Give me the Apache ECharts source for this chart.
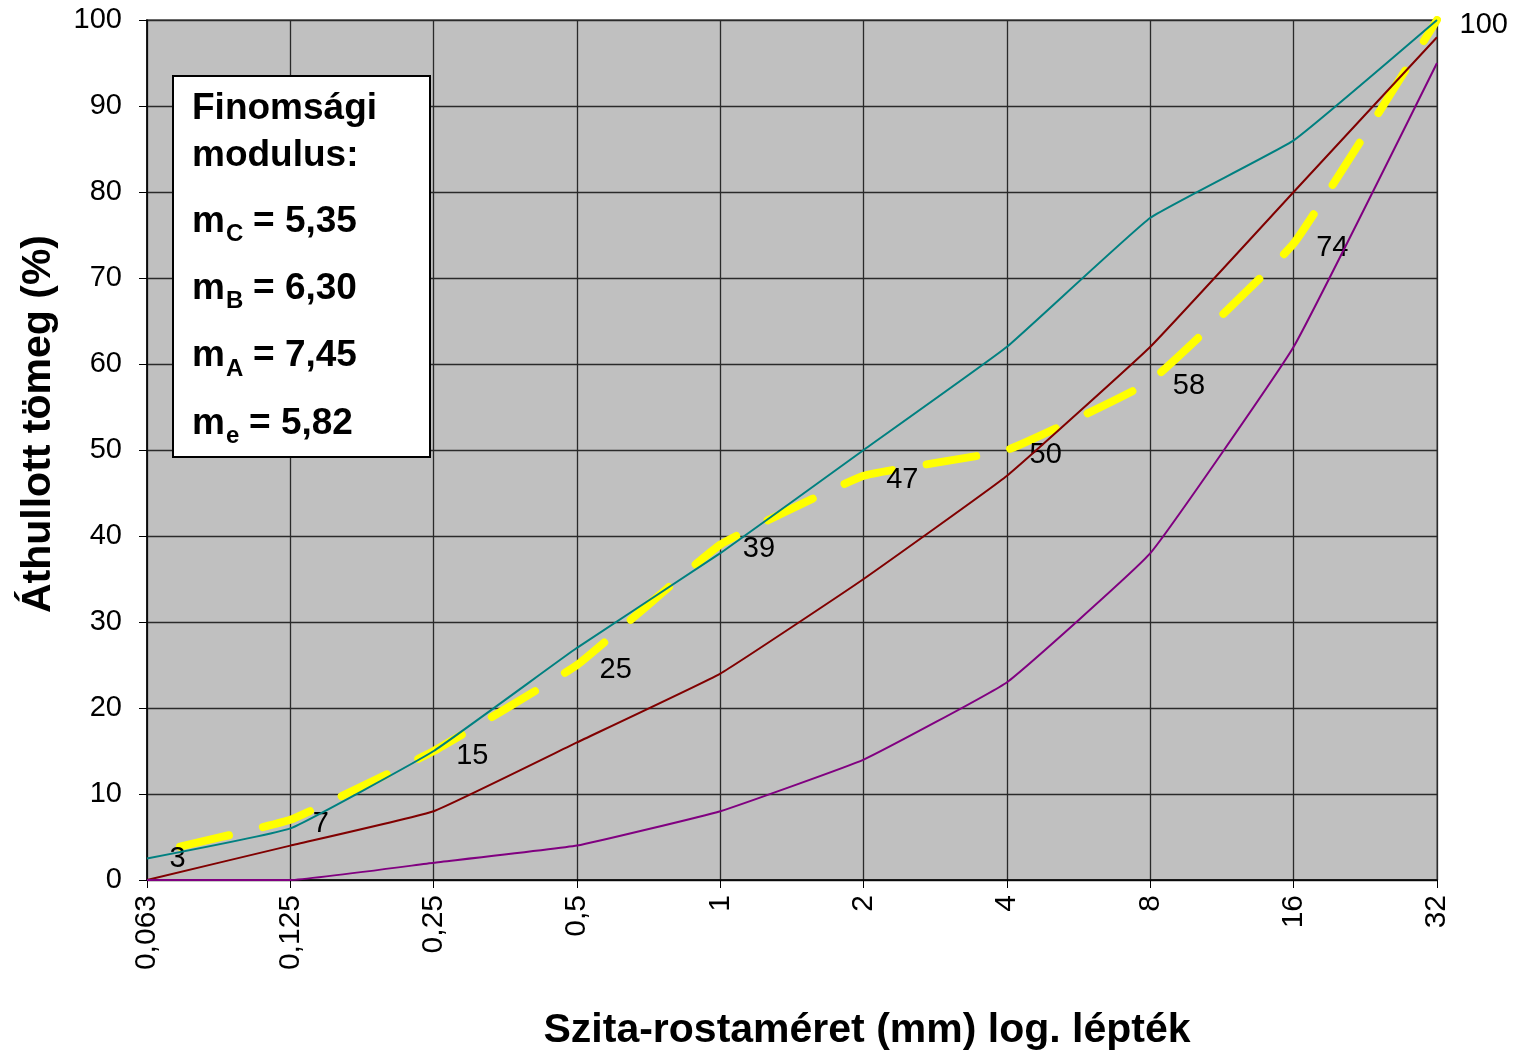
<!DOCTYPE html>
<html><head><meta charset="utf-8">
<script src="https://cdn.jsdelivr.net/npm/echarts@6/dist/echarts.min.js"></script>
<style>html,body{margin:0;padding:0;background:#fff}#c{width:1519px;height:1050px}</style>
</head><body><div id="c"></div>
<script>
const categories = ['0,063','0,125','0,25','0,5','1','2','4','8','16','32'];
const curveC = [2.5, 6, 15, 27, 38, 50, 62, 77, 86, 100];
const curveB = [0, 4, 8, 16, 24, 35, 47, 62, 80, 98];
const curveA = [0, 0, 2, 4, 8, 14, 23, 38, 62, 95];
const actual = [3, 7, 15, 25, 39, 47, 50, 58, 74, 100];
const yTicks = [0,10,20,30,40,50,60,70,80,90,100];
const moduli = [['C','5,35'],['B','6,30'],['A','7,45'],['e','5,82']];

const chart = echarts.init(document.getElementById('c'));
const FONT = '"Liberation Sans", Arial, sans-serif';
const thin = (name, data, color) => ({
  name, type: 'line', data, smooth: 0.1, symbol: 'none',
  lineStyle: { color, width: 2 }, z: 3
});
const BIG = 'bold 37px ' + FONT, SUB = 'bold 24px ' + FONT;
const subW = { C: 17, B: 17, A: 17, e: 13 };
const boxText = [
  { type: 'text', x: 0, y: 18, z: 12, style: { text: 'Finomsági', font: BIG, fill: '#000', verticalAlign: 'middle' } },
  { type: 'text', x: 0, y: 65, z: 12, style: { text: 'modulus:', font: BIG, fill: '#000', verticalAlign: 'middle' } }
];
moduli.forEach((p, i) => {
  const y = 131 + i * 67.3;
  boxText.push(
    { type: 'text', x: 0, y: y, z: 12, style: { text: 'm', font: BIG, fill: '#000', verticalAlign: 'middle' } },
    { type: 'text', x: 34, y: y + 13, z: 12, style: { text: p[0], font: SUB, fill: '#000', verticalAlign: 'middle' } },
    { type: 'text', x: 34 + subW[p[0]] + 10, y: y, z: 12, style: { text: '= ' + p[1], font: BIG, fill: '#000', verticalAlign: 'middle' } }
  );
});
chart.setOption({
  animation: false,
  grid: { left: 147, right: 82, top: 20, bottom: 170, show: true, outerBoundsMode: 'none', containLabel: false,
          backgroundColor: '#C0C0C0', borderColor: '#808080', borderWidth: 2 },
  xAxis: {
    type: 'category', data: categories, boundaryGap: false,
    name: 'Szita-rostaméret (mm) log. lépték', nameLocation: 'middle', nameGap: 130,
    nameTextStyle: { fontFamily: FONT, fontSize: 41, fontWeight: 'bold', color: '#000', padding: [0, 0, 0, 150] },
    axisLine: { lineStyle: { color: '#000', width: 1.5 } },
    axisTick: { show: true, length: 8, lineStyle: { color: '#000' }, alignWithLabel: true },
    axisLabel: { rotate: 90, fontFamily: FONT, fontSize: 30, color: '#000', margin: 15 },
    splitLine: { show: true, lineStyle: { color: '#2a2a2a', width: 1.3 } }
  },
  yAxis: {
    type: 'value', min: 0, max: 100, interval: 10,
    name: 'Áthullott tömeg (%)', nameLocation: 'middle', nameGap: 88, nameRotate: 90,
    nameTextStyle: { fontFamily: FONT, fontSize: 41, fontWeight: 'bold', color: '#000', padding: [0, 0, 0, 52] },
    axisLine: { show: true, lineStyle: { color: '#000', width: 1.5 } },
    axisTick: { show: true, length: 8, lineStyle: { color: '#000' } },
    axisLabel: { fontFamily: FONT, fontSize: 29, color: '#000', margin: 25,
                 formatter: v => yTicks.includes(v) ? String(v) : '' },
    splitLine: { show: true, lineStyle: { color: '#2a2a2a', width: 1.3 } }
  },
  series: [
    thin('C', curveC, '#008080'),
    thin('B', curveB, '#800000'),
    thin('A', curveA, '#800080'),
    {
      name: 'e', type: 'line', data: actual, smooth: 0.1, z: 2,
      symbol: 'circle', symbolSize: 1, showSymbol: true,
      itemStyle: { color: 'rgba(0,0,0,0)' },
      lineStyle: { color: '#FFFF00', width: 8, type: [50, 35], dashOffset: 51, cap: 'round' },
      label: { show: true, position: [23, 5], align: 'left', verticalAlign: 'middle',
               fontFamily: FONT, fontSize: 29, color: '#000' },
      labelLayout: { hideOverlap: false }
    }
  ],
  graphic: [
    { type: 'rect', left: 172, top: 75, z: 10,
      shape: { width: 257, height: 381 },
      style: { fill: '#fff', stroke: '#000', lineWidth: 2 } },
    { type: 'group', left: 192, top: 90, z: 11, children: boxText }
  ]
});
</script></body></html>
